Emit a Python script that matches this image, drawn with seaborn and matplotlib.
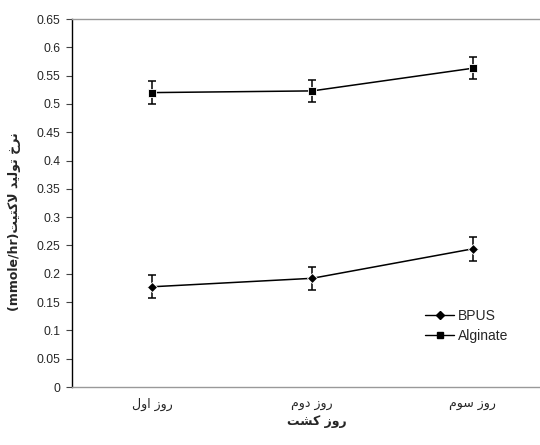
import numpy as np
import pandas as pd
import matplotlib
matplotlib.use("Agg")
import matplotlib.pyplot as plt
import seaborn as sns
from matplotlib.lines import Line2D

# Persian text pre-shaped (presentation forms, visual order)
ROOZ = "\uFEAF\uFEED\uFEAD"
day_labels = ["\uFEDD\uFEED\uFE8D" + " " + ROOZ,      # روز اول
              "\uFEE1\uFEED\uFEA9" + " " + ROOZ,      # روز دوم
              "\uFEE1\uFEEE\uFEB3" + " " + ROOZ]      # روز سوم
x_title = "\uFE96\uFEB8\uFEDB" + " " + ROOZ          # روز کشت
y_title = ("(mmole/hr)" + "\uFE96\uFEF4\uFE98\uFEDB\uFEFB" + " "
           + "\uFEAA\uFEF4\uFEDF\uFEEE\uFE97" + " " + "\uFEA5\uFEAE\uFEE7")

series_names = ["BPUS", "Alginate"]
bpus_vals = [0.177, 0.192, 0.244]
bpus_err = [0.020, 0.020, 0.021]
alg_vals = [0.520, 0.523, 0.563]
alg_err = [0.020, 0.020, 0.019]
yticks = [0, 0.05, 0.1, 0.15, 0.2, 0.25, 0.3, 0.35, 0.4, 0.45, 0.5, 0.55, 0.6, 0.65]
ytick_labels = ["0", "0.05", "0.1", "0.15", "0.2", "0.25", "0.3", "0.35", "0.4",
                "0.45", "0.5", "0.55", "0.6", "0.65"]

sns.set_theme(style="white")
plt.rcParams["font.family"] = ["Liberation Sans", "DejaVu Sans"]

pos = list(range(len(day_labels)))
df = pd.DataFrame({
    "pos": pos * 2,
    "val": bpus_vals + alg_vals,
    "series": [series_names[0]] * 3 + [series_names[1]] * 3,
})

fig = plt.figure(figsize=(5.4, 4.45), dpi=100)
W, H = 540, 445
left, right, top, bottom = 71.7, 540, 19, 387
ax = fig.add_axes([left / W, 1 - bottom / H, (right - left) / W, (bottom - top) / H])

ax.errorbar(pos, bpus_vals, yerr=bpus_err, fmt="none", ecolor="black",
            elinewidth=1.1, capsize=3, capthick=1.1)
ax.errorbar(pos, alg_vals, yerr=alg_err, fmt="none", ecolor="black",
            elinewidth=1.1, capsize=3, capthick=1.1)
sns.lineplot(data=df, x="pos", y="val", hue="series", style="series",
             markers={"BPUS": "D", "Alginate": "s"}, dashes=False,
             palette={"BPUS": "black", "Alginate": "black"},
             markersize=5.3, markeredgewidth=0.6, linewidth=1.1, ax=ax, legend=False)

ax.set_xlim(-0.5, 2.42)
ax.set_ylim(0, 0.65)
ax.set_yticks(yticks)
ax.set_yticklabels(ytick_labels, fontsize=8.7)
ax.set_xticks(pos)
ax.set_xticklabels(day_labels, fontsize=9, family=["DejaVu Sans"])
ax.set_xlabel("")
ax.set_ylabel("")
ax.tick_params(axis="y", left=True, length=4, width=0.8, color="#444444", pad=4)
ax.tick_params(axis="x", bottom=False, length=0, pad=8)

for s in ["top", "bottom"]:
    ax.spines[s].set_color("#999999")
    ax.spines[s].set_linewidth(1.0)
ax.spines["right"].set_visible(False)
ax.spines["left"].set_color("black")
ax.spines["left"].set_linewidth(1.0)

handles = [Line2D([], [], color="black", marker="D", markersize=4.4, lw=1.0),
           Line2D([], [], color="black", marker="s", markersize=4.8, lw=1.0)]
ax.legend(handles, series_names, loc="upper left", bbox_to_anchor=(418 / W, 1 - 302 / H),
          bbox_transform=fig.transFigure, frameon=False, fontsize=10,
          handlelength=2.1, handletextpad=0.25, labelspacing=0.45, borderpad=0)

fig.text(317 / W, 1 - 422 / H, x_title, ha="center", va="center", fontsize=9,
         fontweight="bold", family=["DejaVu Sans"])
fig.text(15 / W, 1 - 222 / H, y_title, ha="center", va="center", rotation=90,
         fontsize=9, fontweight="bold", family=["DejaVu Sans"])

fig.savefig("out.png", dpi=100)
